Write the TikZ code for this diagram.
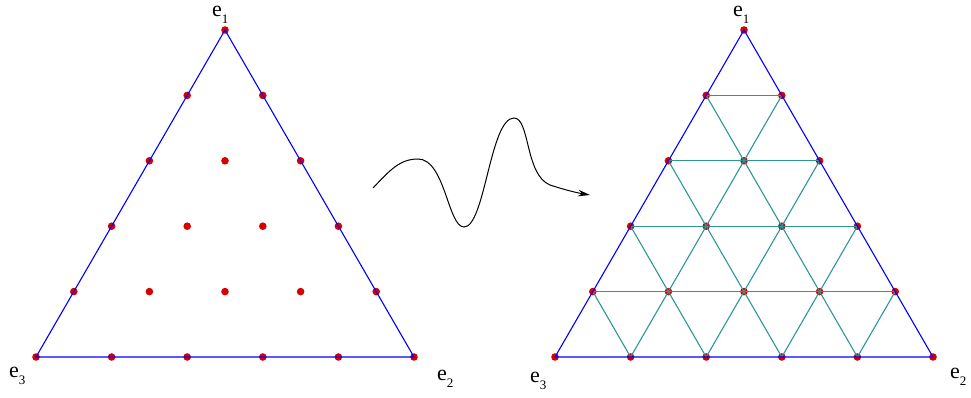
\documentclass[tikz,border=0pt]{standalone}
\usepackage{fontspec}
\setmainfont{Liberation Serif}
\usetikzlibrary{arrows.meta}
\definecolor{dotred}{RGB}{215,0,0}
\definecolor{meshteal}{RGB}{45,150,150}
\newcommand{\evert}[1]{e\raisebox{-7pt}{\fontsize{13}{13}\selectfont #1}}
\begin{document}
\begin{tikzpicture}[x=1pt, y=-1pt,
    latdot/.style={fill=dotred},
    edge/.style={blue, line width=1.1pt},
    mesh/.style={meshteal, line width=1.1pt},
    vlabel/.style={anchor=base west, inner sep=0pt, font=\fontsize{22}{24}\selectfont}]
    \useasboundingbox (0,0) rectangle (971,398);
    % lattice points of both triangles
    \foreach \side/\dx in {L/0, R/519} {
        \foreach \i in {0,...,5} {
            \pgfmathtruncatemacro{\jmax}{5-\i}
            \foreach \j in {0,...,\jmax} {
                \coordinate (\side-\i-\j) at ({36+\dx+75.6*\i+37.8*\j},{357-65.4*\j});
                \fill[latdot] (\side-\i-\j) circle (3.8pt);
            }
        }
    }
    % subdivision of the right triangle
    \foreach \k in {1,...,4} {
        \pgfmathtruncatemacro{\m}{5-\k}
        \draw[mesh] (R-0-\k) -- (R-\m-\k);
        \draw[mesh] (R-\k-0) -- (R-\k-\m);
        \draw[mesh] (R-\k-0) -- (R-0-\k);
    }
    % boundaries
    \draw[edge] (L-0-0) -- (L-5-0) -- (L-0-5) -- cycle;
    \draw[edge] (R-0-0) -- (R-5-0) -- (R-0-5) -- cycle;
    % vertex labels
    \node[vlabel] (e1L) at (212,17) {\evert{1}};
    \node[vlabel] (e2L) at (437,380) {\evert{2}};
    \node[vlabel] (e3L) at (9,377) {\evert{3}};
    \node[vlabel] (e1R) at (733,17) {\evert{1}};
    \node[vlabel] (e2R) at (950,378) {\evert{2}};
    \node[vlabel] (e3R) at (530,382) {\evert{3}};
    % the map between them
    \coordinate (wstart) at (373,188);
    \coordinate (wend) at (590,195);
    \draw[line width=1pt, -{Stealth[length=12pt,width=6.5pt]}] (wstart)
        .. controls (390,170) and (400,159) .. (418,159)
        .. controls (445,159) and (448,227) .. (464,227)
        .. controls (485,227) and (490,118) .. (514,118)
        .. controls (530,118) and (525,175) .. (550,185)
        .. controls (565,190) and (578,193) .. (wend);
\end{tikzpicture}
\end{document}
